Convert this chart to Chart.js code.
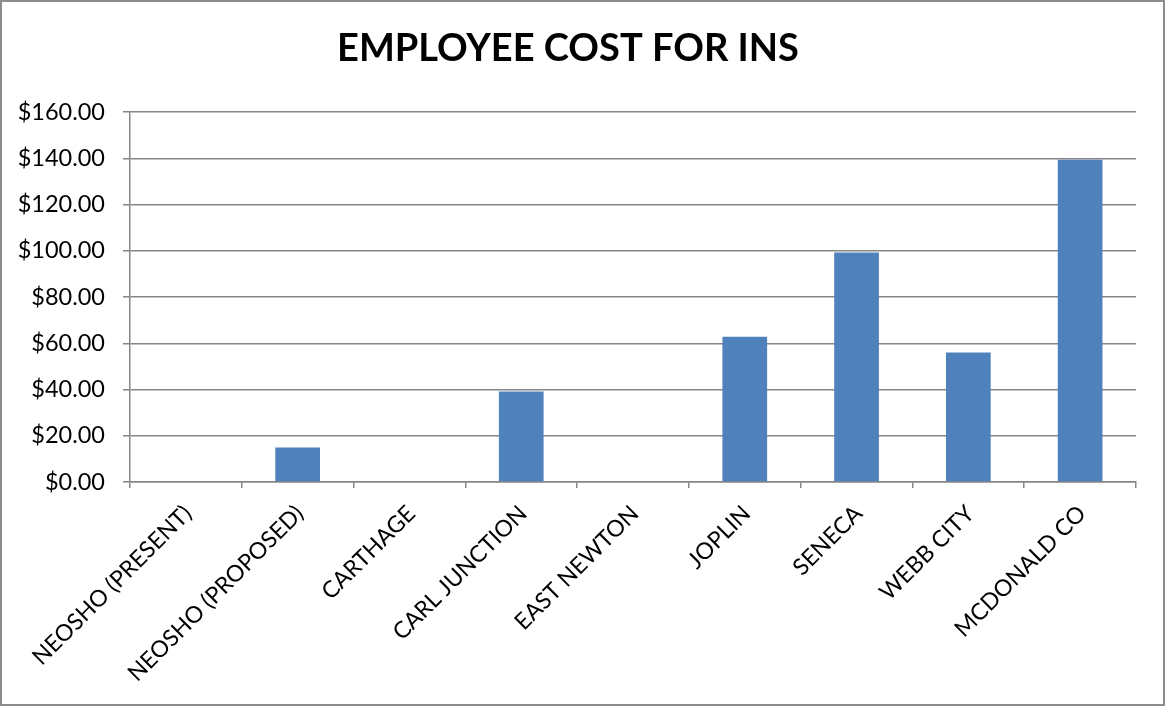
<!DOCTYPE html>
<html>
<head>
<meta charset="utf-8">
<script src="https://cdn.jsdelivr.net/npm/chart.js@4"></script>
<style>
  html, body { margin: 0; padding: 0; background: #ffffff; }
  #wrap { width: 1165px; height: 706px; position: relative; }
</style>
</head>
<body>
<div id="wrap"><canvas id="chart" width="1165" height="706"></canvas></div>
<script>
// Monthly employee share of insurance cost by entity
const categories = [
  'NEOSHO (PRESENT)', 'NEOSHO (PROPOSED)', 'CARTHAGE', 'CARL JUNCTION',
  'EAST NEWTON', 'JOPLIN', 'SENECA', 'WEBB CITY', 'MCDONALD CO'
];
const employeeCost = [0, 14.9, 0, 39.1, 0, 62.8, 99.2, 56.0, 139.3];
const yTicks = [0, 20, 40, 60, 80, 100, 120, 140, 160];

const FONT = 'Lato, "Open Sans", "DejaVu Sans", sans-serif';
const AXIS_GREY = '#868686';

// Thin grey frame around the whole chart
const frame = {
  id: 'frame',
  afterDraw(chart) {
    const ctx = chart.ctx;
    ctx.save();
    ctx.strokeStyle = '#8c8c8c';
    ctx.lineWidth = 2;
    ctx.strokeRect(1, 1, chart.width - 2, chart.height - 2);
    ctx.restore();
  }
};

new Chart(document.getElementById('chart'), {
  type: 'bar',
  data: {
    labels: categories,
    datasets: [{
      label: 'Employee cost',
      data: employeeCost,
      backgroundColor: '#4F81BD',
      borderWidth: 0,
      barPercentage: 0.4,
      categoryPercentage: 1.0
    }]
  },
  options: {
    responsive: false,
    animation: false,
    layout: { padding: { left: 0, right: 29, top: 0, bottom: 0 } },
    plugins: {
      legend: { display: false },
      tooltip: { enabled: false },
      title: {
        display: true,
        text: 'EMPLOYEE COST FOR INS',
        color: '#000000',
        font: { family: FONT, size: 38, weight: 'bold', lineHeight: 1.2 },
        padding: { top: 26, bottom: 40.4 }
      }
    },
    scales: {
      x: {
        offset: true,
        grid: {
          display: true,
          offset: true,
          drawOnChartArea: false,
          drawTicks: true,
          tickLength: 6,
          color: AXIS_GREY,
          lineWidth: 1.5
        },
        border: { display: true, color: AXIS_GREY, width: 1.5 },
        ticks: {
          color: '#000000',
          font: { family: FONT, size: 23 },
          minRotation: 45,
          maxRotation: 45,
          autoSkip: false,
          padding: 12,
          labelOffset: 2
        },
        afterFit(scale) { scale.height = 706 - 482; }
      },
      y: {
        min: 0,
        max: 160,
        afterBuildTicks(scale) { scale.ticks = yTicks.map(v => ({ value: v })); },
        grid: {
          color: AXIS_GREY,
          lineWidth: 1.5,
          tickLength: 7,
          drawTicks: true
        },
        border: { display: true, color: AXIS_GREY, width: 1.5 },
        ticks: {
          color: '#000000',
          font: { family: FONT, size: 23.5 },
          padding: 18,
          callback: v => '$' + Number(v).toFixed(2)
        },
        afterFit(scale) { scale.width = 130; }
      }
    }
  },
  plugins: [frame]
});
</script>
</body>
</html>
